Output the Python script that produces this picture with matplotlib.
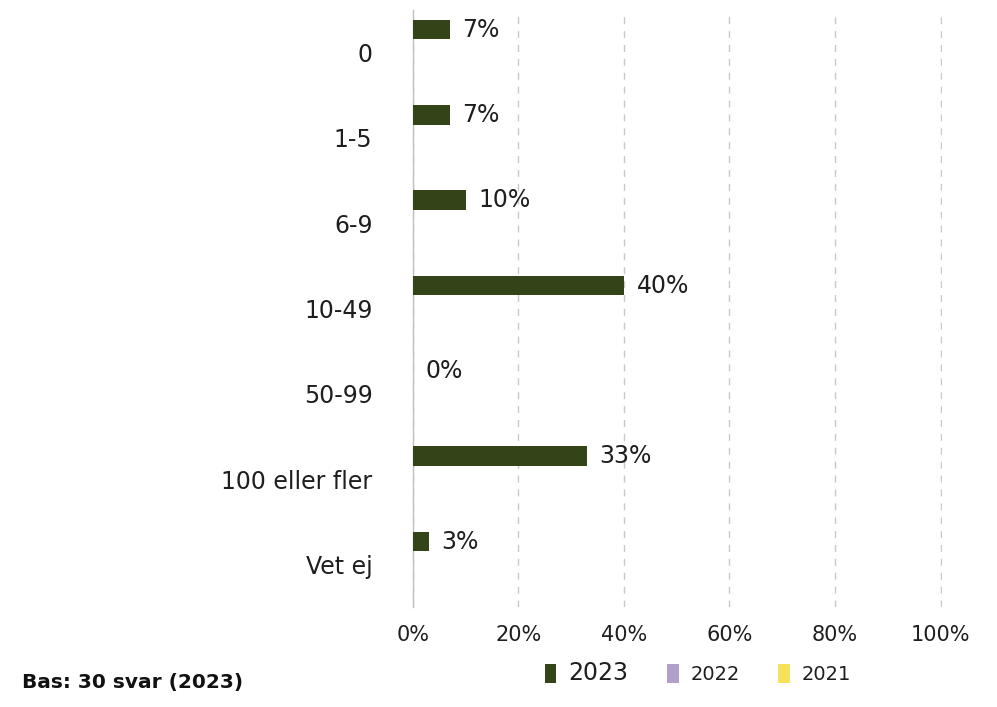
import numpy as np
import matplotlib
matplotlib.use('Agg')
import matplotlib.pyplot as plt
from matplotlib.patches import Patch

plt.rcParams['font.family'] = 'DejaVu Sans'

categories = ['0', '1-5', '6-9', '10-49', '50-99', '100 eller fler', 'Vet ej']
series_names = ['2023', '2022', '2021']
values_2023 = [7, 7, 10, 40, 0, 33, 3]
values_2022 = [None] * 7
values_2021 = [None] * 7
colors = ['#344419', '#b09fc9', '#f7e05a']
text_col = '#1e1e1e'

fig = plt.figure(figsize=(9.97, 7.07), dpi=100)
ax = fig.add_axes([0.414, 0.141, 0.531, 0.845])

y = np.arange(len(categories))
offset = 0.27
height = 0.23
series = [values_2023, values_2022, values_2021]
for k, (vals, col) in enumerate(zip(series, colors)):
    pos = y + (k - 1) * offset
    for p, v in zip(pos, vals):
        if v is None:
            continue
        ax.barh(p, v, height=height, color=col, zorder=3)
        ax.annotate(f'{v}%', (v, p), xytext=(9, 0), textcoords='offset points',
                    va='center', ha='left', fontsize=17, color=text_col)

ax.set_xlim(0, 100.3)
ax.set_ylim(len(categories) - 0.5, -0.5)
ax.set_xticks(np.arange(0, 101, 20))
ax.set_xticklabels([f'{t}%' for t in range(0, 101, 20)], fontsize=15, color=text_col)
ax.set_yticks(y)
ax.set_yticklabels(categories, fontsize=17, color=text_col)
ax.tick_params(axis='both', length=0)
ax.tick_params(axis='y', pad=29)
ax.tick_params(axis='x', pad=13)

for s in ['top', 'right', 'bottom']:
    ax.spines[s].set_visible(False)
ax.spines['left'].set_color('#c0c0c0')
ax.spines['left'].set_linewidth(1.0)
ax.grid(True, axis='x', linestyle=(0, (5, 5)), color='#c8c8c8', linewidth=1.0, zorder=0)

handles = [Patch(facecolor=c, edgecolor='none') for c in colors]
leg = fig.legend(handles, series_names, loc='center', bbox_to_anchor=(0.70, 0.048),
                 ncol=3, frameon=False, handlelength=0.6, handleheight=1.1,
                 handletextpad=0.6, columnspacing=2.0, fontsize=14)
for i, t in enumerate(leg.get_texts()):
    t.set_color(text_col)
    if i == 0:
        t.set_fontsize(17)

fig.text(0.022, 0.021, 'Bas: 30 svar (2023)', fontsize=14.5, fontweight='bold',
         color='#111111', ha='left', va='bottom')

plt.savefig('out.png', dpi=100)
plt.close()
